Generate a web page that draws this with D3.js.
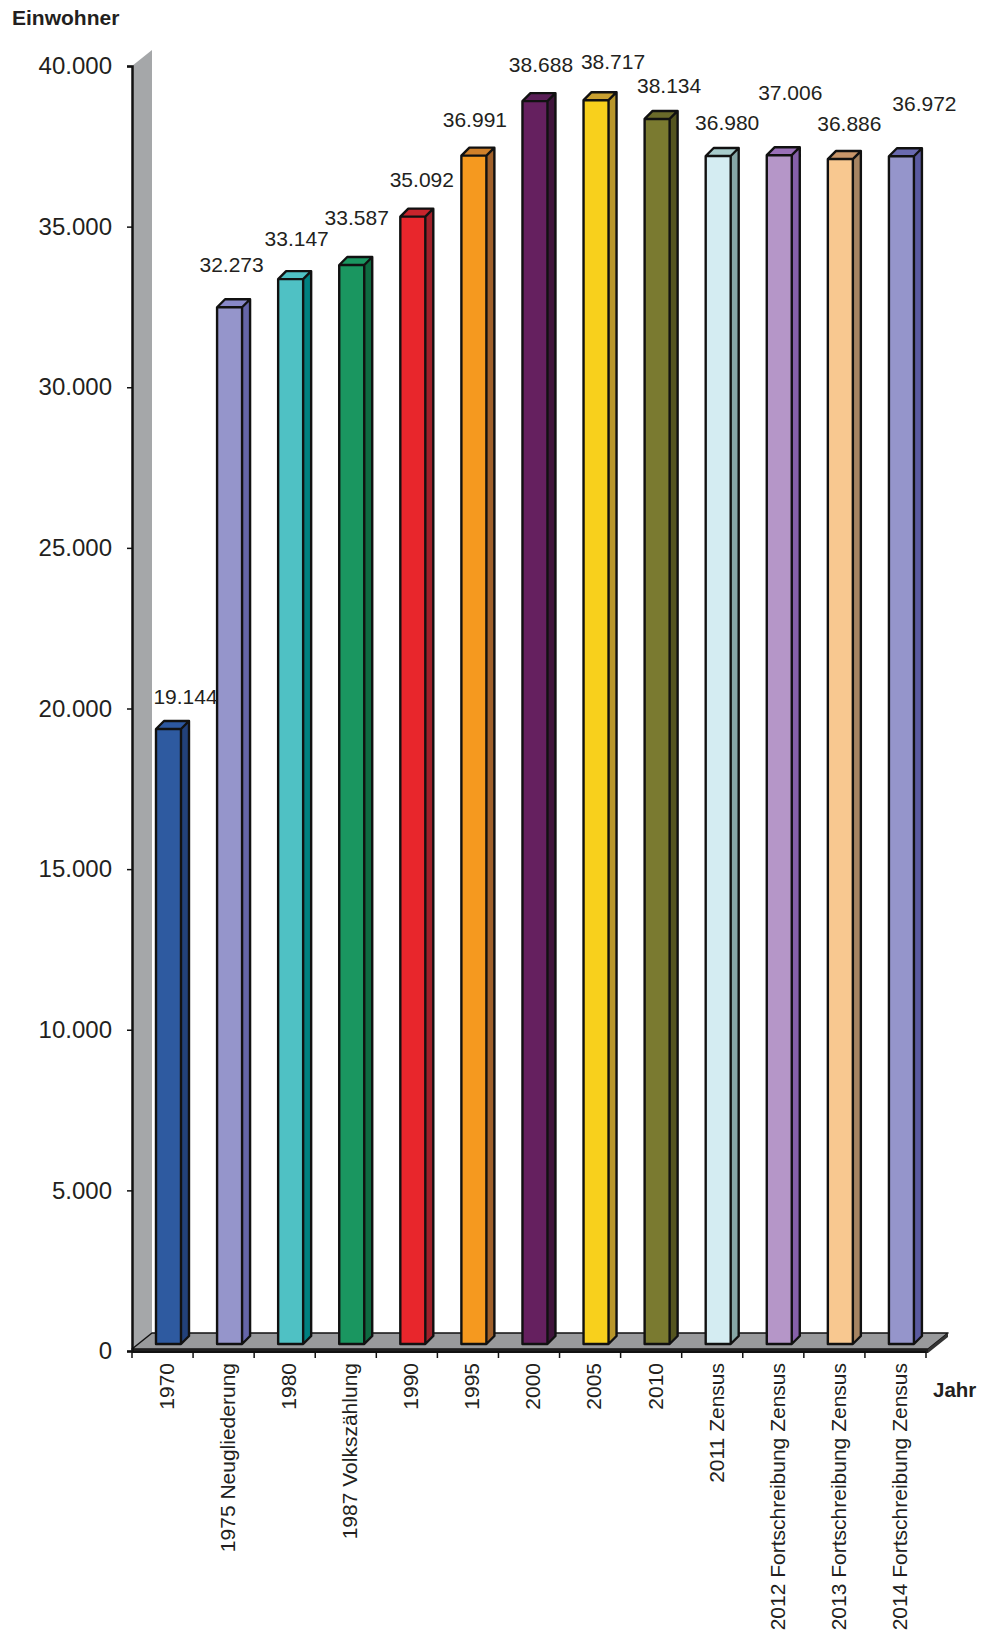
<!DOCTYPE html>
<html>
<head>
<meta charset="utf-8">
<script src="https://cdn.jsdelivr.net/npm/d3@7"></script>
<style>
  body { margin: 0; background: #fff; }
  text { font-family: "Liberation Sans", Arial, sans-serif; fill: #231f20; }
</style>
</head>
<body>
<svg id="chart" width="982" height="1638"></svg>
<script>
// data
const categories = ["1970", "1975 Neugliederung", "1980", "1987 Volkszählung", "1990", "1995",
  "2000", "2005", "2010", "2011 Zensus", "2012 Fortschreibung Zensus",
  "2013 Fortschreibung Zensus", "2014 Fortschreibung Zensus"];
const einwohner = [19144, 32273, 33147, 33587, 35092, 36991, 38688, 38717, 38134, 36980, 37006, 36886, 36972];
const yTicks = [0, 5000, 10000, 15000, 20000, 25000, 30000, 35000, 40000];

// front / side / top colour per bar
const frontCol = ["#2e5aa0", "#9595cb", "#4fc1c4", "#1a9660", "#e8262c", "#f5991f", "#65205f",
  "#f8d01c", "#7a7a30", "#d4ecf2", "#b596c8", "#f8c890", "#9595cb"];
const sideCol = ["#22417a", "#6565a8", "#008080", "#0e6a40", "#a0202a", "#a0602a", "#40153c",
  "#b8962a", "#55551f", "#86a6a6", "#8660a8", "#a68462", "#5a5aa0"];
const topCol = ["#2d58a0", "#8888c8", "#4fc1c4", "#1a9660", "#c8242c", "#d0802a", "#5a1f57",
  "#c9a030", "#6a6a2a", "#a8cccc", "#9a70b8", "#c8966a", "#6a6ab0"];
// label nudges (Excel placed them a bit irregularly)
const labelShift = [[17, -17], [2, -27], [6, -25], [5, -32], [9, -22], [1, -21], [6, -21],
  [17, -23], [12, -18], [9, -18], [11, -47], [9, -20], [23, -37]];

const svg = d3.select("#chart");
const fmt = d3.formatLocale({decimal: ",", thousands: ".", grouping: [3], currency: ["", "€"]}).format(",d");

const x = d3.scaleBand().domain(categories).range([132, 926]).paddingInner(0).paddingOuter(0);
const y = d3.scaleLinear().domain([0, 40000]).range([1351, 66]);

const depth = {dx: 20, dy: -16};   // wall / floor depth
const bar = {off: 24, w: 25, dx: 8, dy: -8, sx: 0, sy: -7};

// back wall (narrow left side wall)
svg.append("polygon")
  .attr("points", [[132, y(40000)], [132 + depth.dx, y(40000) + depth.dy], [132 + depth.dx, 1349 + depth.dy], [132, 1349]].join(" "))
  .attr("fill", "#a5a7a9");

// floor
const fx0 = 132, fx1 = 928, fy = 1349;
svg.append("polygon")
  .attr("points", [[fx0, fy], [fx1, fy], [fx1 + depth.dx, fy + depth.dy], [fx0 + depth.dx, fy + depth.dy]].join(" "))
  .attr("fill", "#999a9c").attr("stroke", "#111").attr("stroke-width", 1.5).attr("stroke-linejoin", "round");
svg.append("polygon")
  .attr("points", [[fx0, fy], [fx1, fy], [fx1, fy + 4], [fx0, fy + 4]].join(" "))
  .attr("fill", "#1e1e1e");
svg.append("polygon")
  .attr("points", [[fx1, fy], [fx1 + depth.dx, fy + depth.dy], [fx1 + depth.dx, fy + depth.dy + 4], [fx1, fy + 4]].join(" "))
  .attr("fill", "#333");

// y axis
const yAxis = svg.append("g")
  .attr("transform", "translate(132,0)")
  .call(d3.axisLeft(y).tickValues(yTicks).tickSize(5).tickPadding(15).tickFormat(fmt));
yAxis.select(".domain").attr("stroke", "#111").attr("stroke-width", 2.5);
yAxis.selectAll(".tick line").attr("stroke", "#111").attr("stroke-width", 1.5);
yAxis.selectAll(".tick text").attr("font-size", 24).attr("fill", "#231f20")
  .attr("font-family", "Liberation Sans, Arial, sans-serif");

// x axis line and ticks at band borders
svg.append("line").attr("x1", 132).attr("x2", 926).attr("y1", 1352).attr("y2", 1352)
  .attr("stroke", "#111").attr("stroke-width", 2);
svg.append("g").selectAll("line")
  .data(categories.concat(["end"]))
  .join("line")
  .attr("x1", (d, i) => 132 + i * x.step())
  .attr("x2", (d, i) => 132 + i * x.step())
  .attr("y1", 1352).attr("y2", 1358)
  .attr("stroke", "#111").attr("stroke-width", 1.5);

// 3d bars
const bars = svg.append("g").selectAll("g")
  .data(einwohner)
  .join("g");

const bx = (d, i) => x(categories[i]) + bar.off + bar.sx;
const btop = d => y(d) + bar.sy;
const bbot = y(0) + bar.sy;

bars.append("polygon")
  .attr("points", (d, i) => {
    const x1 = bx(d, i) + bar.w, t = btop(d);
    return [[x1, t], [x1 + bar.dx, t + bar.dy], [x1 + bar.dx, bbot + bar.dy], [x1, bbot]].join(" ");
  })
  .attr("fill", (d, i) => sideCol[i]);
bars.append("polygon")
  .attr("points", (d, i) => {
    const x0 = bx(d, i), t = btop(d);
    return [[x0, t], [x0 + bar.dx, t + bar.dy], [x0 + bar.w + bar.dx, t + bar.dy], [x0 + bar.w, t]].join(" ");
  })
  .attr("fill", (d, i) => topCol[i]);
bars.append("rect")
  .attr("x", bx)
  .attr("y", btop)
  .attr("width", bar.w)
  .attr("height", d => bbot - btop(d))
  .attr("fill", (d, i) => frontCol[i]);
bars.append("path")
  .attr("d", (d, i) => {
    const x0 = bx(d, i), x1 = x0 + bar.w, t = btop(d);
    return `M${x0},${bbot}V${t}L${x0 + bar.dx},${t + bar.dy}H${x1 + bar.dx}V${bbot + bar.dy}L${x1},${bbot}H${x0}Z` +
      `M${x0},${t}H${x1}L${x1 + bar.dx},${t + bar.dy}M${x1},${t}V${bbot}`;
  })
  .attr("fill", "none").attr("stroke", "#111").attr("stroke-width", 2.4).attr("stroke-linejoin", "round");

// value labels
svg.append("g").selectAll("text")
  .data(einwohner)
  .join("text")
  .attr("x", (d, i) => bx(d, i) + bar.w / 2 + labelShift[i][0])
  .attr("y", (d, i) => btop(d) + bar.dy + labelShift[i][1])
  .attr("text-anchor", "middle")
  .attr("font-size", 21)
  .text(d => fmt(d));

// category labels
svg.append("g").selectAll("text")
  .data(categories)
  .join("text")
  .attr("transform", d => `translate(${x(d) + x.bandwidth() / 2 + 4},1363) rotate(-90)`)
  .attr("text-anchor", "end")
  .attr("dy", "0.35em")
  .attr("font-size", 21)
  .text(d => d);

// axis titles
svg.append("text").attr("x", 12).attr("y", 25).attr("font-size", 21).attr("font-weight", "bold").text("Einwohner");
svg.append("text").attr("x", 933).attr("y", 1397).attr("font-size", 20.5).attr("font-weight", "bold").text("Jahr");
</script>
</body>
</html>
